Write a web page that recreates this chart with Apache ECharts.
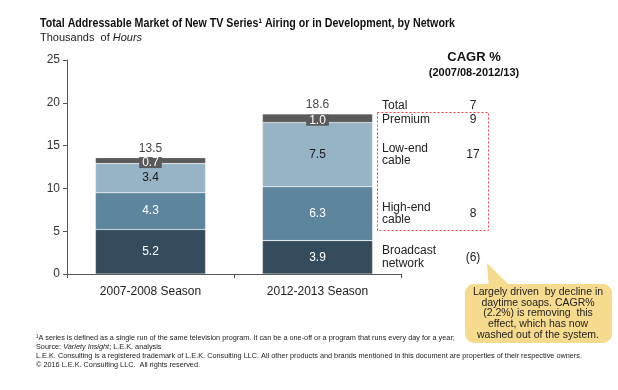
<!DOCTYPE html>
<html><head><meta charset="utf-8">
<script src="https://cdn.jsdelivr.net/npm/echarts@6/dist/echarts.min.js"></script>
<style>html,body{margin:0;padding:0;background:#fff}#c{width:618px;height:390px}</style>
</head><body><div id="c"></div>
<script>
// ---- data ----
const categories = ['2007-2008 Season', '2012-2013 Season'];
const broadcast = [5.2, 3.9];
const highEndCable = [4.3, 6.3];
const lowEndCable = [3.4, 7.5];
const premium = [0.7, 1.0];
const totals = [13.5, 18.6];
const yMin = 0, yMax = 25, yStep = 5;
const cagrNames = ['Total', 'Premium', 'Low-end\ncable', 'High-end\ncable', 'Broadcast\nnetwork'];
const cagrValues = ['7', '9', '17', '8', '(6)'];
const titleText = 'Total Addressable Market of New TV Series\u00b9 Airing or in Development, by Network';
const calloutLines = ['Largely driven  by decline in', 'daytime soaps. CAGR%', '(2.2%) is removing  this', 'effect, which has now', 'washed out of the system.'];
const footLines = [
  '\u00b9A series is defined as a single run of the same television program. It can be a one-off or a program that runs every day for a year;',
  'Source: {i|Variety Insight}; L.E.K. analysis',
  'L.E.K. Consulting is a registered trademark of L.E.K. Consulting LLC. All other products and brands mentioned in this document are properties of their respective owners.',
  '\u00a9 2016 L.E.K. Consulting LLC.  All rights reserved.'
];

const FONT = '"Liberation Sans", Arial, sans-serif';
const TITLE_SIZE = 13;
// horizontal squeeze so the title spans the same width as in the reference (condensed look)
const measureCtx = document.createElement('canvas').getContext('2d');
measureCtx.font = 'bold ' + TITLE_SIZE + 'px ' + FONT;
const titleScale = 415 / measureCtx.measureText(titleText).width;

const colors = { broadcast: '#344b5b', high: '#5d859d', low: '#97b3c6', premium: '#5a5a5a' };

const chart = echarts.init(document.getElementById('c'), null, { renderer: 'canvas' });

function seg(name, data, color, labelColor, extra) {
  return {
    name, type: 'bar', stack: 'tam', data, barWidth: '66%',
    itemStyle: { color, borderColor: 'rgba(255,255,255,0.35)', borderWidth: 0.6 },
    label: Object.assign({ show: true, position: 'inside', color: labelColor, fontSize: 12, fontFamily: FONT,
      formatter: p => p.value.toFixed(1) }, extra || {}),
    emphasis: { disabled: true }, animation: false
  };
}

const option = {
  animation: false,
  textStyle: { fontFamily: FONT },
  grid: { left: 67, top: 60, width: 334, height: 214, containLabel: false },
  xAxis: {
    type: 'category', data: categories,
    axisLine: { lineStyle: { color: '#555', width: 1 } },
    axisTick: { show: true, length: 4, lineStyle: { color: '#555' } },
    axisLabel: { color: '#222', fontSize: 12, fontFamily: FONT, margin: 12 }
  },
  yAxis: {
    type: 'value', min: yMin, max: yMax, interval: yStep,
    axisLine: { show: true, lineStyle: { color: '#555', width: 1 } },
    axisTick: { show: true, length: 4, lineStyle: { color: '#555' } },
    splitLine: { show: false },
    axisLabel: { color: '#333', fontSize: 12, fontFamily: FONT, margin: 7 }
  },
  series: [
    seg('Broadcast network', broadcast, colors.broadcast, '#ffffff'),
    seg('High-end cable', highEndCable, colors.high, '#ffffff'),
    seg('Low-end cable', lowEndCable, colors.low, '#1a1a1a'),
    seg('Premium', premium, colors.premium, '#ffffff', { backgroundColor: '#5a5a5a', padding: [1, 3, 0, 3], lineHeight: 10, offset: [0, 2] }),
    {
      name: 'Total', type: 'scatter', data: totals, symbolSize: 0, z: 5,
      label: { show: true, position: 'top', distance: 4, color: '#111', fontSize: 12, fontFamily: FONT,
        formatter: p => p.value.toFixed(1) },
      emphasis: { disabled: true }, animation: false
    }
  ]
};
chart.setOption(option);

// positions of CAGR row labels follow the second bar's segments
const yPix = v => chart.convertToPixel({ yAxisIndex: 0 }, v);
const i2 = 1;
const b = broadcast[i2], h = highEndCable[i2], l = lowEndCable[i2], p = premium[i2];
const rowY = [
  yPix(totals[i2]) - 9,
  yPix(b + h + l + p / 2) + 1,
  yPix(b + h + l / 2),
  yPix(b + h / 2),
  yPix(b / 2)
];

const graphics = [];
// title
graphics.push({ type: 'text', x: 40, y: 17, scaleX: titleScale, style: { text: titleText,
  fontSize: TITLE_SIZE, fontWeight: 'bold', fontFamily: FONT, fill: '#111' } });
graphics.push({ type: 'text', x: 40, y: 32, style: { text: 'Thousands  of {i|Hours}', fontSize: 11, fontFamily: FONT, fill: '#222',
  rich: { i: { fontStyle: 'italic', fontSize: 11, fontFamily: FONT, fill: '#222' } } } });
// CAGR header
graphics.push({ type: 'text', x: 474, y: 57, style: { text: 'CAGR %', fontSize: 13, fontWeight: 'bold', fontFamily: FONT, fill: '#111', align: 'center', verticalAlign: 'middle' } });
graphics.push({ type: 'text', x: 474, y: 73, style: { text: '(2007/08-2012/13)', fontSize: 11, fontWeight: 'bold', fontFamily: FONT, fill: '#111', align: 'center', verticalAlign: 'middle' } });
// rows
cagrNames.forEach((n, k) => {
  graphics.push({ type: 'text', x: 382, y: rowY[k], style: { text: n, fontSize: 12, lineHeight: 12.5, fontFamily: FONT, fill: '#222', align: 'left', verticalAlign: 'middle' } });
  graphics.push({ type: 'text', x: 473, y: rowY[k], style: { text: cagrValues[k], fontSize: 12, fontFamily: FONT, fill: '#222', align: 'center', verticalAlign: 'middle' } });
});
// red dashed box
graphics.push({ type: 'rect', shape: { x: 377.5, y: 112.5, width: 111, height: 118 }, style: { fill: 'none', stroke: '#ff4040', lineWidth: 1, lineDash: [2, 2] }, z: 10 });
// callout
graphics.push({ type: 'polygon', shape: { points: [[487, 263], [489, 290], [514, 290]] }, style: { fill: '#f6da8e' }, z: 10 });
graphics.push({ type: 'rect', shape: { x: 465, y: 284, width: 147, height: 59, r: 9 }, style: { fill: '#f6da8e' }, z: 10 });
graphics.push({ type: 'text', x: 538, y: 313.5, z: 11, style: { text: calloutLines.join('\n'), fontSize: 10.5, lineHeight: 10.8, fontFamily: FONT, fill: '#222', align: 'center', verticalAlign: 'middle' } });
// footnotes
footLines.forEach((t, k) => {
  graphics.push({ type: 'text', x: 36, y: 334 + k * 9, style: { text: t, fontSize: 7.3, fontFamily: FONT, fill: '#222',
    rich: { i: { fontStyle: 'italic', fontSize: 7.3, fontFamily: FONT, fill: '#222' } } } });
});
chart.setOption({ graphic: graphics });
</script></body></html>
